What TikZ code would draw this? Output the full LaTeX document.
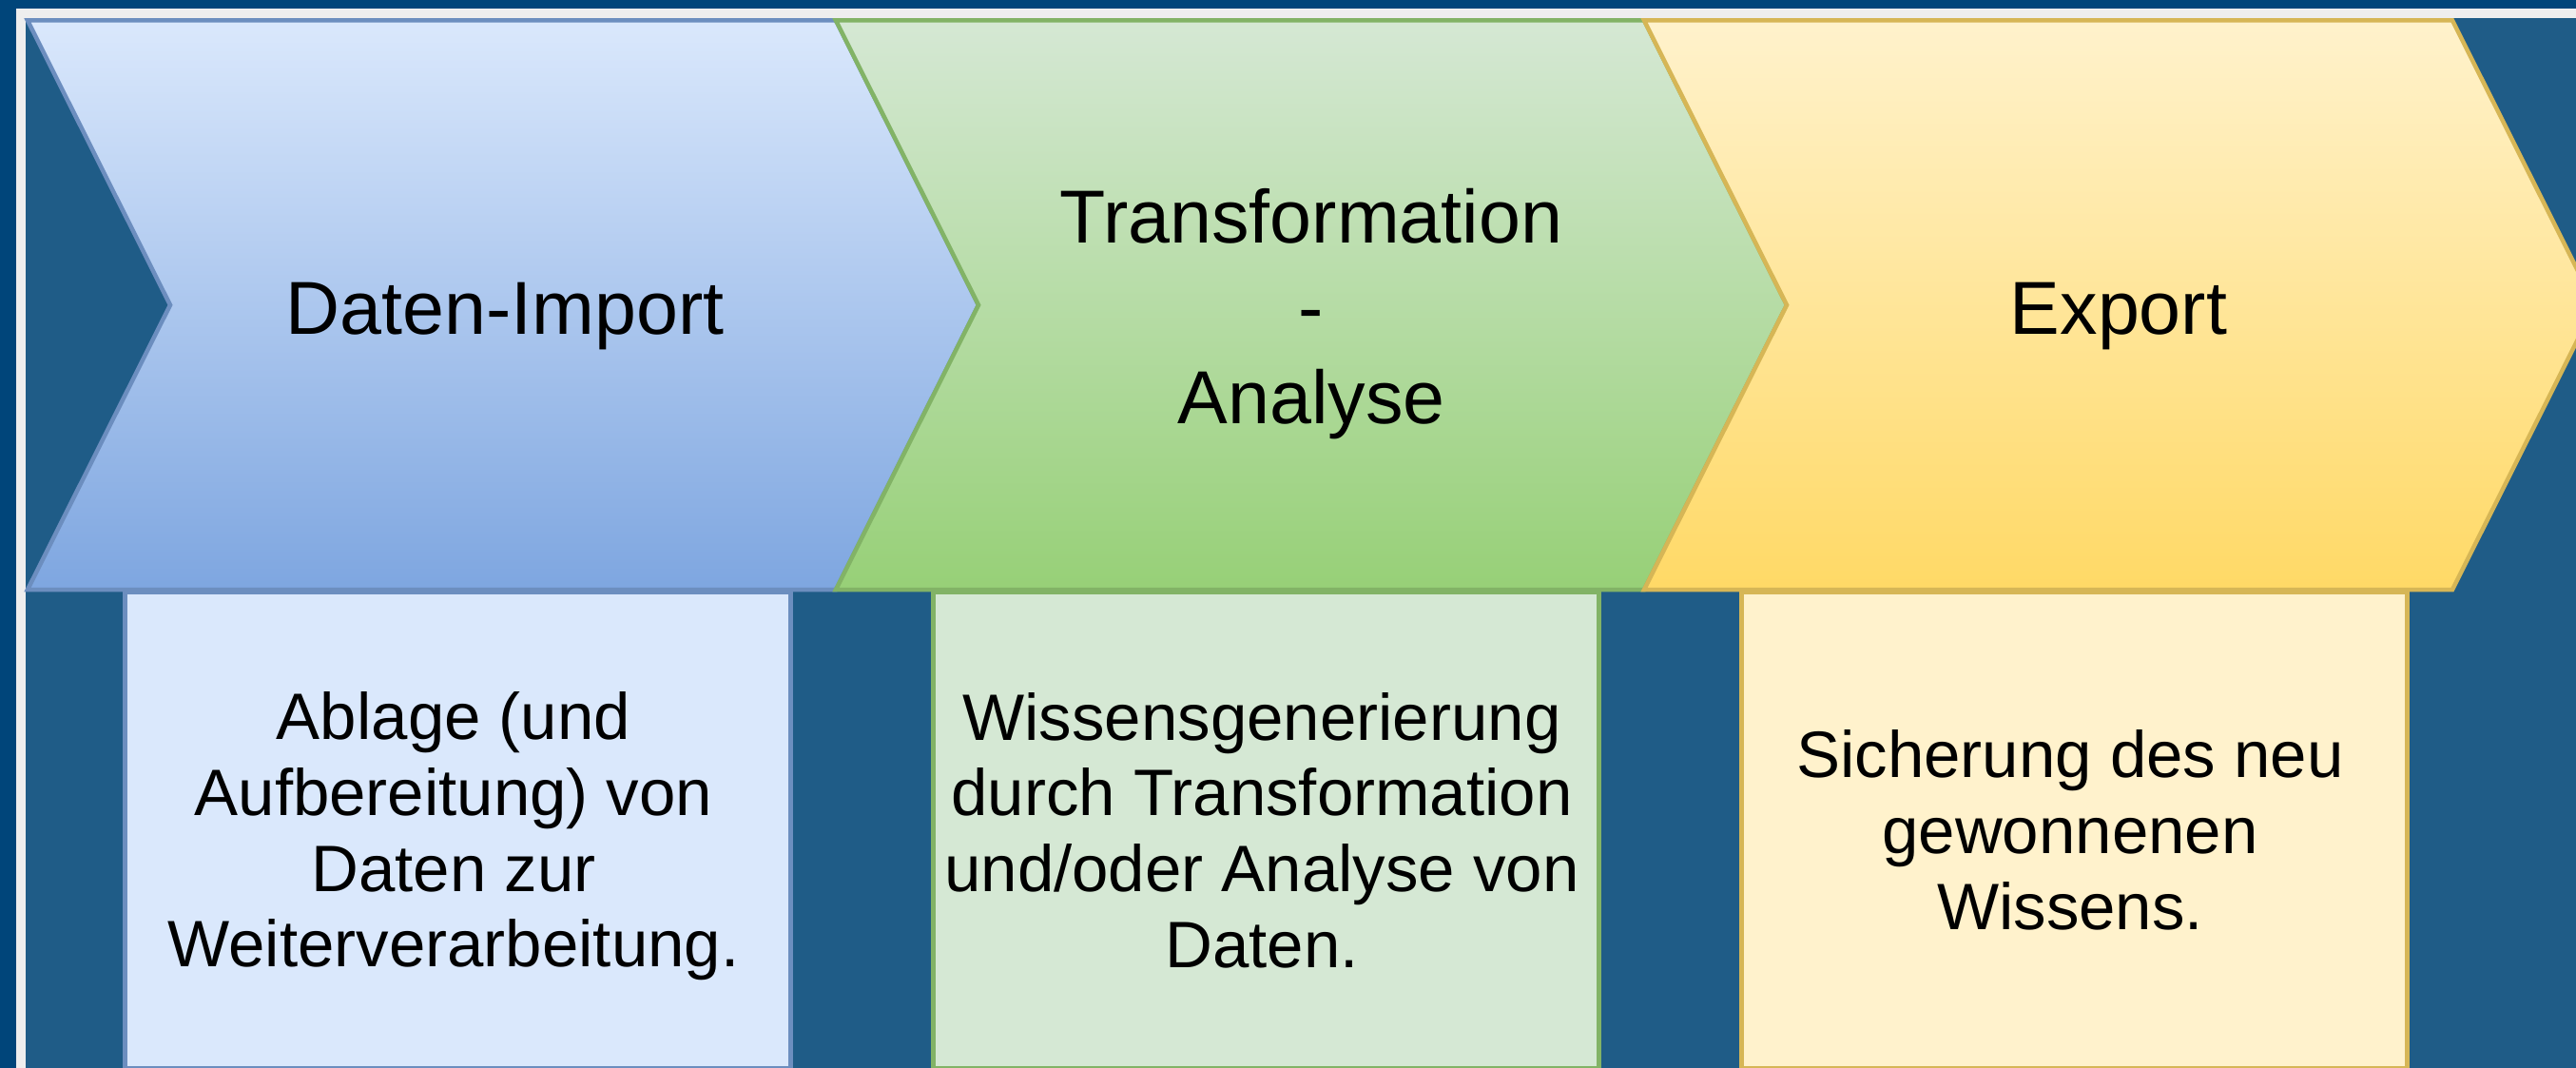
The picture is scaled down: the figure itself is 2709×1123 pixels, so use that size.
\documentclass[tikz,border=0pt]{standalone}
\usepackage{fontspec}
\setmainfont{Liberation Sans}
\definecolor{frameblue}{HTML}{00457A}
\definecolor{bgblue}{HTML}{1F5C87}
\definecolor{bandgrey}{HTML}{EEEEEE}
\definecolor{bluefillA}{HTML}{DAE8FC}
\definecolor{bluefillB}{HTML}{7EA6E0}
\definecolor{bluestroke}{HTML}{6C8EBF}
\definecolor{greenfillA}{HTML}{D5E8D4}
\definecolor{greenfillB}{HTML}{97D077}
\definecolor{greenstroke}{HTML}{82B366}
\definecolor{yellowfillA}{HTML}{FFF2CC}
\definecolor{yellowfillB}{HTML}{FFD966}
\definecolor{yellowstroke}{HTML}{D6B656}
\begin{document}
\begin{tikzpicture}[x=1pt,y=-1pt,line width=4.5pt,
  titletext/.style={font=\fontsize{79}{95}\selectfont,align=center,text=black,inner sep=0pt},
  desctext/.style={font=\fontsize{69}{79.7}\selectfont,align=center,text=black,inner sep=0pt},
  descbox/.style={minimum width=700pt,minimum height=500pt,inner sep=0pt,anchor=north west}]
\clip (0,0) rectangle (2709,1123);
% frame and background
\fill[frameblue] (0,0) rectangle (2709,1123);
\fill[bandgrey] (17,9) rectangle (2709,1123);
\fill[bgblue] (27,19) rectangle (2709,1123);
% description boxes
\node[descbox,fill=bluefillA,draw=bluestroke] (box1) at (129,620.5) {};
\node[descbox,fill=greenfillA,draw=greenstroke] (box2) at (979,620.5) {};
\node[descbox,fill=yellowfillA,draw=yellowstroke] (box3) at (1829,620.5) {};
% chevrons
\draw[top color=bluefillA,bottom color=bluefillB,draw=bluestroke]
  (29,21.5) -- (879,21.5) -- (1029,320.75) -- (879,620) -- (29,620) -- (179,320.75) -- cycle;
\draw[top color=greenfillA,bottom color=greenfillB,draw=greenstroke]
  (879,21.5) -- (1729,21.5) -- (1879,320.75) -- (1729,620) -- (879,620) -- (1029,320.75) -- cycle;
\draw[top color=yellowfillA,bottom color=yellowfillB,draw=yellowstroke]
  (1729,21.5) -- (2579,21.5) -- (2729,320.75) -- (2579,620) -- (1729,620) -- (1879,320.75) -- cycle;
% chevron titles
\node[titletext,anchor=base] (title1) at (531,352) {Daten-Import};
\node[titletext] (title2) at (1379,330) {Transformation\\-\\Analyse};
\node[titletext,anchor=base] (title3) at (2228,352) {Export};
% descriptions
\node[desctext] (desc1) at (477,879.5) {Ablage (und\\Aufbereitung) von\\Daten zur\\Weiterverarbeitung.};
\node[desctext] (desc2) at (1327,873) {Wissensgenerierung\\durch Transformation\\und/oder Analyse von\\Daten.};
\node[desctext] (desc3) at (2177,873) {Sicherung des neu\\gewonnenen\\Wissens.};
\end{tikzpicture}
\end{document}
